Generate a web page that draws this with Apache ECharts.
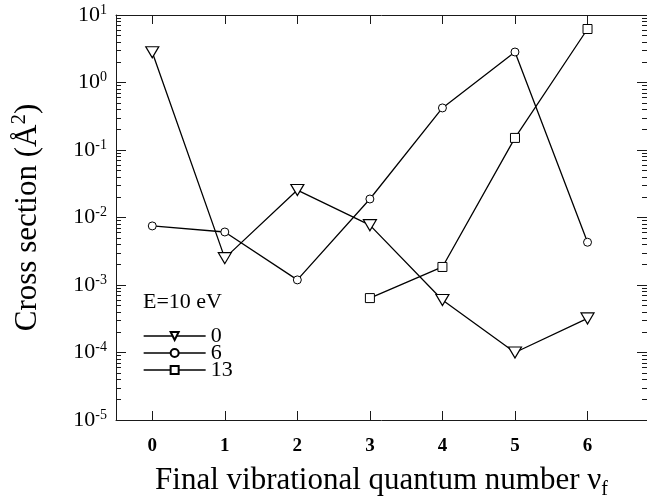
<!DOCTYPE html>
<html>
<head>
<meta charset="utf-8">
<script src="https://cdn.jsdelivr.net/npm/echarts@6/dist/echarts.min.js"></script>
<style>
  html, body { margin: 0; padding: 0; background: #fff; }
  #chart { width: 647px; height: 504px; }
</style>
</head>
<body>
<div id="chart"></div>
<script>
// final vibrational quantum number
const vib = [0, 1, 2, 3, 4, 5, 6]
const vib13 = [3, 4, 5, 6]
// cross sections (Å^2), E = 10 eV, initial v = 0, 6, 13
const sigma0 = [2.8, 2.5e-3, 0.0255, 7.7e-3, 6.0e-4, 1.0e-4, 3.2e-4]
const sigma6 = [7.5e-3, 6.1e-3, 1.19e-3, 0.0188, 0.42, 2.83, 4.3e-3]
const sigma13 = [6.4e-4, 1.85e-3, 0.151, 6.2]
const seriesNames = ['0', '6', '13']
const xTicks = [0, 1, 2, 3, 4, 5, 6]
const yMajor = [1e-5, 1e-4, 1e-3, 1e-2, 1e-1, 1, 10]

const yMinor = []
for (let e = -5; e < 1; e++) {
  for (let m = 2; m <= 9; m++) yMinor.push(+(m * Math.pow(10, e)).toPrecision(3))
}

const FONT = 'Liberation Serif'
const LINE = '#1a1a1a'

const chart = echarts.init(document.getElementById('chart'))

const pairs = (xs, ys) => xs.map((x, i) => [x, ys[i]])

const baseY = {
  type: 'log',
  logBase: 10,
  min: 1e-5,
  max: 10,
  splitLine: { show: false },
  axisLine: { show: false, onZero: false },
  axisLabel: { show: false }
}

const option = {
  animation: false,
  backgroundColor: '#fff',
  title: {
    text: 'E=10 eV',
    left: 143,
    top: 291,
    padding: 0,
    textStyle: { fontFamily: FONT, fontSize: 22, fontWeight: 'normal', color: '#000' }
  },
  legend: {
    orient: 'vertical',
    left: 143,
    top: 325,
    padding: 0,
    itemWidth: 62,
    itemHeight: 10,
    itemGap: -5,
    data: seriesNames,
    lineStyle: { width: 1.3 },
    textStyle: { fontFamily: FONT, fontSize: 22, color: '#000', padding: [0, 0, 0, 0] }
  },
  grid: { left: 116, top: 15, right: 0, bottom: 84, outerBoundsMode: 'none', containLabel: false },
  xAxis: [
    {
      type: 'value',
      position: 'bottom',
      min: -0.5,
      max: 6.82,
      name: 'Final vibrational quantum number ν{sub|f}',
      nameLocation: 'middle',
      nameGap: 42,
      nameTextStyle: {
        fontFamily: FONT, fontSize: 31, color: '#000',
        rich: { sub: { fontFamily: FONT, fontSize: 20, color: '#000', padding: [18, 0, 0, 0] } }
      },
      splitLine: { show: false },
      axisLine: { onZero: false, lineStyle: { color: LINE, width: 1 } },
      axisTick: { inside: true, length: 9, customValues: xTicks, lineStyle: { color: LINE } },
      axisLabel: {
        customValues: xTicks, margin: 17,
        fontFamily: FONT, fontSize: 19, fontWeight: 'bold', color: '#000'
      }
    },
    {
      type: 'value',
      position: 'top',
      min: -0.5,
      max: 6.82,
      splitLine: { show: false },
      axisLine: { onZero: false, lineStyle: { color: LINE, width: 1 } },
      axisTick: { inside: true, length: 9, customValues: xTicks, lineStyle: { color: LINE } },
      axisLabel: { show: false }
    }
  ],
  yAxis: [
    {
      type: 'log',
      logBase: 10,
      min: 1e-5,
      max: 10,
      position: 'left',
      name: 'Cross section (Å{sup|2})',
      nameLocation: 'middle',
      nameGap: 70,
      nameTextStyle: {
        fontFamily: FONT, fontSize: 31, color: '#000',
        rich: { sup: { fontFamily: FONT, fontSize: 21, color: '#000', padding: [0, 0, 16, 0] } }
      },
      splitLine: { show: false },
      axisLine: { show: true, onZero: false, lineStyle: { color: LINE, width: 1 } },
      axisTick: { inside: true, length: 10, customValues: yMajor, lineStyle: { color: LINE } },
      axisLabel: {
        customValues: yMajor,
        margin: 9,
        formatter: v => '{a|10}{b|' + Math.round(Math.log10(v)) + '}',
        rich: {
          a: { fontFamily: FONT, fontSize: 22, color: '#000', lineHeight: 24 },
          b: { fontFamily: FONT, fontSize: 14, color: '#000', verticalAlign: 'top', padding: [0, 0, 10, 0] }
        }
      }
    },
    Object.assign({}, baseY, {
      position: 'left',
      axisTick: { inside: true, length: 5, customValues: yMinor, lineStyle: { color: LINE } }
    }),
    Object.assign({}, baseY, {
      position: 'right',
      axisTick: { inside: true, length: 10, customValues: yMajor, lineStyle: { color: LINE } }
    }),
    Object.assign({}, baseY, {
      position: 'right',
      axisTick: { inside: true, length: 5, customValues: yMinor, lineStyle: { color: LINE } }
    })
  ],
  series: [
    {
      name: seriesNames[0],
      type: 'line',
      data: pairs(vib, sigma0),
      symbol: 'triangle',
      symbolRotate: 180,
      symbolSize: [13, 11],
      showAllSymbol: true,
      lineStyle: { color: '#000', width: 1.3 },
      itemStyle: { color: '#fff', borderColor: '#000', borderWidth: 1.2 }
    },
    {
      name: seriesNames[1],
      type: 'line',
      data: pairs(vib, sigma6),
      symbol: 'circle',
      symbolSize: 8,
      showAllSymbol: true,
      lineStyle: { color: '#000', width: 1.3 },
      itemStyle: { color: '#fff', borderColor: '#000', borderWidth: 1 }
    },
    {
      name: seriesNames[2],
      type: 'line',
      data: pairs(vib13, sigma13),
      symbol: 'rect',
      symbolSize: 9,
      showAllSymbol: true,
      lineStyle: { color: '#000', width: 1.3 },
      itemStyle: { color: '#fff', borderColor: '#000', borderWidth: 1 }
    }
  ]
}

chart.setOption(option)
window.addEventListener('resize', () => chart.resize())
</script>
</body>
</html>
